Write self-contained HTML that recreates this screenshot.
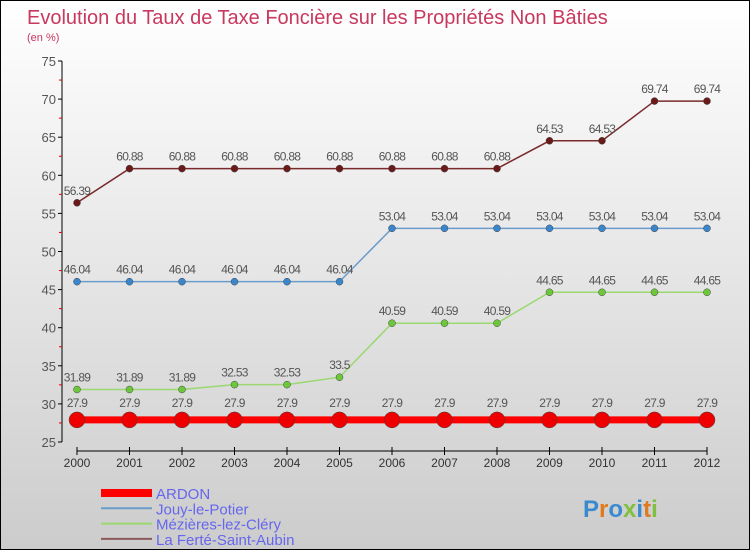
<!DOCTYPE html>
<html><head><meta charset="utf-8"><style>
body{margin:0}
#c{width:750px;height:550px;position:relative;box-sizing:border-box;border:1px solid #000;background:linear-gradient(#fff,#ccc);font-family:"Liberation Sans",sans-serif;overflow:hidden}
svg{position:absolute;left:0;top:0}
</style></head><body>
<div id="c">
<svg id="s" width="750" height="550">
<text x="26" y="23" font-size="20" fill="#c8385f">Evolution du Taux de Taxe Foncière sur les Propriétés Non Bâties</text>
<text x="26" y="40" font-size="11" fill="#c8385f">(en %)</text>
</svg>
</div>
<script>
const years=[2000,2001,2002,2003,2004,2005,2006,2007,2008,2009,2010,2011,2012];
const ardon=[27.9,27.9,27.9,27.9,27.9,27.9,27.9,27.9,27.9,27.9,27.9,27.9,27.9];
const jouy=[46.04,46.04,46.04,46.04,46.04,46.04,53.04,53.04,53.04,53.04,53.04,53.04,53.04];
const mezieres=[31.89,31.89,31.89,32.53,32.53,33.5,40.59,40.59,40.59,44.65,44.65,44.65,44.65];
const ferte=[56.39,60.88,60.88,60.88,60.88,60.88,60.88,60.88,60.88,64.53,64.53,69.74,69.74];
const yTicks=[25,30,35,40,45,50,55,60,65,70,75];
const names=["ARDON","Jouy-le-Potier","Mézières-lez-Cléry","La Ferté-Saint-Aubin"];
const s=document.getElementById('s');const NS='http://www.w3.org/2000/svg';
function X(i){return 76+i*52.5}
function Y(v){return 441-(v-25)*7.62}
function el(t,a,p){const e=document.createElementNS(NS,t);for(const k in a)e.setAttribute(k,a[k]);(p||s).appendChild(e);return e}
let ax=el('line',{x1:61,y1:Y(75),x2:61,y2:Y(25),stroke:'#000'});

yTicks.forEach(v=>{el('line',{x1:57,x2:61,y1:Y(v),y2:Y(v),stroke:'#000'});
 if(v<75)el('line',{x1:58,x2:61,y1:Y(v+2.5),y2:Y(v+2.5),stroke:'#d00'});
 const t=el('text',{x:55,y:Y(v)+5,'text-anchor':'end','font-size':13,fill:'#555'});t.textContent=v;
 });
let xa=el('line',{x1:X(0),y1:450,x2:X(12),y2:450,stroke:'#000'});

years.forEach((y,i)=>{el('line',{x1:X(i),x2:X(i),y1:446,y2:454,stroke:'#000'});
 const t=el('text',{x:X(i),y:466,'text-anchor':'middle','font-size':12,fill:'#333'});t.textContent=y;
 });
const series=[[ferte,'#7a2a2a','#6b1a1a',1.5,3.5,'ferte'],[jouy,'#6a9ccc','#3a86cc',1.5,3.5,'jouy'],[mezieres,'#9ad870','#6cc83a',1.5,3.5,'mezieres'],[ardon,'#ff0000','#ee0000',7,8,'ardon']];
series.forEach(([d,lc,pc,w,r,n])=>{
 const g=el('g',{});
 el('polyline',{points:d.map((v,i)=>X(i)+','+Y(v)).join(' '),fill:'none',stroke:lc,'stroke-width':w},g);
 d.forEach((v,i)=>{const c=el('circle',{cx:X(i),cy:Y(v),r:r,fill:pc,stroke:'#444','stroke-width':0.5},g);
  
  const t=el('text',{x:X(i),y:Y(v)-(n==='ardon'?13:8),'text-anchor':'middle','font-size':12,fill:'#555','letter-spacing':'-0.7'},g);t.textContent=v;
  });
});
const lcol=['#ff0000','#6a9ccc','#9ad870','#8a5a5a'],lw=[8,2,2,2];
names.forEach((n,i)=>{const y=492+i*15.3;
 const g=el('g',{});
 el('line',{x1:100,x2:151,y1:y,y2:y,stroke:lcol[i],'stroke-width':lw[i]},g);
 const t=el('text',{x:155,y:y+6,'font-size':15,fill:'#6666ee'},g);t.textContent=n;});
const lg=el('text',{x:582,y:516,'font-size':24,'font-weight':'bold'});

const lcols=['#3a8ad0','#e07a20','#3a8ad0','#80c040','#3a8ad0','#e07a20','#80c040'];
'Proxiti'.split('').forEach((ch,i)=>{const sp=el('tspan',{fill:lcols[i]},lg);sp.textContent=ch;});
</script>
</body></html>
